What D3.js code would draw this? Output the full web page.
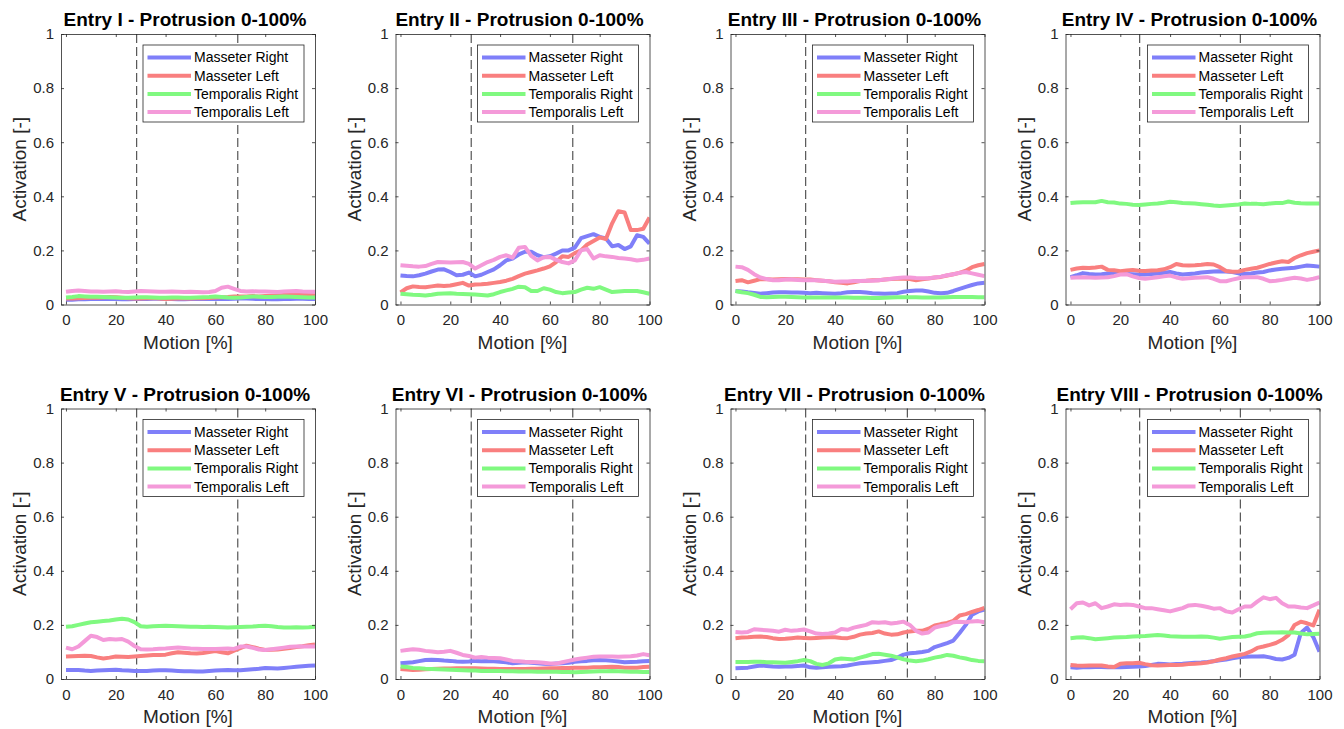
<!DOCTYPE html>
<html>
<head>
<meta charset="utf-8">
<script src="https://cdn.jsdelivr.net/npm/d3@7"></script>
<style>
    body { margin: 0; background: #fff; }
    text { font-family: "Liberation Sans", Arial, Helvetica, sans-serif; fill: #262626; }
</style>
</head>
<body>
<script>
/* Values, one row per entry (I..VIII) */
var entryNames = ["I", "II", "III", "IV", "V", "VI", "VII", "VIII"];
var seriesNames = ["Masseter Right", "Masseter Left", "Temporalis Right", "Temporalis Left"];
var seriesColors = ["#7f7ff9", "#f97f7f", "#80f980", "#f49ad9"];

// Motion [%] sample points shared by every series
var motion = [0, 2.5, 5, 7.5, 10, 12.5, 15, 17.5, 20, 22.5, 25, 27.5, 30, 32.5, 35, 37.5, 40,
    42.5, 45, 47.5, 50, 52.5, 55, 57.5, 60, 62.5, 65, 67.5, 70, 72.5, 75, 77.5, 80, 82.5, 85,
    87.5, 90, 92.5, 95, 97.5, 100];

// dashed phase markers per entry
var phaseStart = [28.4, 28.4, 28.2, 27.8, 28.4, 28.4, 28.2, 27.8];
var phaseEnd = [69, 69.2, 69, 68.2, 69, 69.2, 69, 68.2];

var xTicks = [0, 20, 40, 60, 80, 100];
var yTicks = [0, 0.2, 0.4, 0.6, 0.8, 1];
var yTickLabels = ["0", "0.2", "0.4", "0.6", "0.8", "1"];

var masseterRight = [
    [0.018,0.018,0.019,0.019,0.02,0.02,0.02,0.021,0.02,0.019,0.019,0.02,0.02,0.02,0.021,0.021,0.02,0.02,0.019,0.019,0.02,0.02,0.02,0.021,0.02,0.02,0.02,0.021,0.022,0.022,0.021,0.02,0.02,0.019,0.019,0.02,0.02,0.021,0.021,0.02,0.02],
    [0.107,0.105,0.104,0.108,0.114,0.122,0.129,0.13,0.12,0.108,0.11,0.118,0.104,0.11,0.12,0.13,0.145,0.163,0.17,0.185,0.195,0.195,0.182,0.175,0.178,0.188,0.2,0.2,0.21,0.245,0.253,0.26,0.25,0.244,0.215,0.22,0.205,0.215,0.256,0.25,0.225],
    [0.05,0.048,0.045,0.043,0.04,0.042,0.044,0.045,0.045,0.044,0.044,0.043,0.042,0.043,0.042,0.041,0.04,0.042,0.045,0.046,0.046,0.044,0.042,0.041,0.04,0.041,0.042,0.047,0.05,0.052,0.052,0.048,0.043,0.042,0.043,0.05,0.058,0.065,0.072,0.078,0.08],
    [0.101,0.108,0.116,0.113,0.111,0.112,0.115,0.114,0.113,0.113,0.112,0.111,0.111,0.113,0.115,0.117,0.12,0.115,0.111,0.113,0.115,0.118,0.12,0.122,0.123,0.122,0.12,0.115,0.113,0.115,0.118,0.12,0.126,0.129,0.132,0.134,0.136,0.14,0.144,0.142,0.14],
    [0.033,0.033,0.033,0.031,0.03,0.031,0.032,0.033,0.034,0.032,0.031,0.03,0.03,0.03,0.031,0.032,0.032,0.031,0.03,0.029,0.029,0.028,0.028,0.03,0.031,0.032,0.033,0.032,0.032,0.034,0.036,0.038,0.041,0.04,0.039,0.041,0.043,0.045,0.047,0.049,0.05],
    [0.058,0.06,0.062,0.066,0.07,0.071,0.07,0.068,0.067,0.065,0.064,0.065,0.067,0.066,0.067,0.066,0.064,0.062,0.058,0.06,0.062,0.06,0.058,0.056,0.055,0.057,0.058,0.06,0.064,0.066,0.067,0.069,0.07,0.069,0.067,0.065,0.062,0.063,0.064,0.066,0.067],
    [0.04,0.041,0.042,0.046,0.05,0.048,0.046,0.045,0.046,0.046,0.048,0.05,0.043,0.042,0.043,0.045,0.046,0.047,0.05,0.054,0.058,0.06,0.062,0.064,0.067,0.07,0.079,0.09,0.095,0.097,0.1,0.104,0.118,0.125,0.133,0.142,0.17,0.2,0.238,0.25,0.257],
    [0.043,0.042,0.043,0.043,0.044,0.044,0.043,0.044,0.043,0.044,0.045,0.046,0.048,0.052,0.056,0.055,0.054,0.055,0.056,0.058,0.06,0.061,0.063,0.066,0.069,0.072,0.077,0.08,0.082,0.083,0.083,0.084,0.08,0.074,0.072,0.078,0.09,0.17,0.19,0.155,0.101]
];

var masseterLeft = [
    [0.022,0.022,0.023,0.024,0.025,0.025,0.026,0.028,0.027,0.025,0.023,0.022,0.022,0.023,0.024,0.022,0.02,0.021,0.022,0.022,0.022,0.023,0.023,0.024,0.026,0.027,0.028,0.03,0.03,0.03,0.031,0.03,0.031,0.032,0.033,0.035,0.036,0.037,0.036,0.035,0.034],
    [0.045,0.06,0.067,0.065,0.064,0.067,0.07,0.068,0.07,0.075,0.08,0.07,0.074,0.075,0.077,0.08,0.083,0.088,0.095,0.105,0.114,0.12,0.126,0.133,0.141,0.157,0.178,0.176,0.19,0.2,0.222,0.235,0.248,0.242,0.3,0.345,0.34,0.275,0.275,0.28,0.322],
    [0.087,0.09,0.082,0.088,0.094,0.093,0.092,0.093,0.094,0.093,0.093,0.092,0.092,0.09,0.088,0.086,0.082,0.08,0.078,0.082,0.087,0.088,0.09,0.09,0.092,0.094,0.095,0.095,0.094,0.09,0.093,0.096,0.1,0.102,0.107,0.112,0.117,0.125,0.138,0.145,0.15],
    [0.128,0.133,0.136,0.135,0.137,0.14,0.128,0.127,0.123,0.126,0.128,0.125,0.124,0.126,0.127,0.13,0.138,0.15,0.145,0.144,0.145,0.147,0.15,0.148,0.138,0.124,0.121,0.122,0.128,0.132,0.136,0.143,0.15,0.155,0.16,0.157,0.172,0.182,0.19,0.195,0.2],
    [0.083,0.084,0.085,0.086,0.085,0.08,0.076,0.079,0.083,0.082,0.081,0.083,0.085,0.087,0.089,0.089,0.09,0.095,0.099,0.097,0.095,0.094,0.096,0.1,0.103,0.099,0.095,0.105,0.114,0.123,0.118,0.112,0.107,0.108,0.109,0.112,0.115,0.118,0.121,0.125,0.128],
    [0.037,0.035,0.033,0.034,0.036,0.037,0.038,0.039,0.039,0.04,0.04,0.04,0.04,0.039,0.038,0.038,0.037,0.037,0.037,0.037,0.037,0.038,0.038,0.039,0.04,0.04,0.041,0.041,0.042,0.042,0.042,0.043,0.043,0.044,0.045,0.044,0.042,0.042,0.042,0.044,0.045],
    [0.151,0.153,0.154,0.156,0.157,0.155,0.151,0.148,0.149,0.151,0.153,0.152,0.151,0.152,0.153,0.154,0.154,0.152,0.151,0.156,0.164,0.168,0.17,0.176,0.168,0.164,0.165,0.172,0.176,0.178,0.178,0.186,0.198,0.203,0.207,0.215,0.235,0.24,0.248,0.255,0.263],
    [0.052,0.05,0.049,0.05,0.05,0.05,0.046,0.044,0.056,0.058,0.058,0.06,0.055,0.051,0.05,0.051,0.052,0.052,0.053,0.055,0.056,0.058,0.061,0.066,0.072,0.077,0.083,0.088,0.093,0.102,0.115,0.12,0.126,0.133,0.145,0.162,0.2,0.212,0.206,0.198,0.256]
];

var temporalisRight = [
    [0.026,0.028,0.031,0.03,0.029,0.029,0.028,0.027,0.026,0.025,0.025,0.026,0.027,0.027,0.026,0.025,0.025,0.026,0.026,0.025,0.025,0.026,0.027,0.028,0.03,0.028,0.026,0.025,0.026,0.028,0.03,0.029,0.028,0.028,0.029,0.03,0.029,0.028,0.027,0.026,0.026],
    [0.04,0.038,0.036,0.035,0.033,0.036,0.04,0.041,0.042,0.04,0.039,0.038,0.037,0.035,0.033,0.038,0.046,0.052,0.058,0.066,0.064,0.05,0.05,0.06,0.055,0.046,0.042,0.044,0.046,0.055,0.062,0.058,0.064,0.055,0.046,0.048,0.05,0.05,0.05,0.045,0.04],
    [0.05,0.045,0.042,0.036,0.028,0.027,0.028,0.029,0.029,0.028,0.027,0.026,0.026,0.026,0.026,0.026,0.026,0.026,0.026,0.025,0.025,0.025,0.024,0.024,0.025,0.026,0.027,0.027,0.027,0.027,0.026,0.026,0.026,0.026,0.027,0.028,0.028,0.028,0.028,0.027,0.027],
    [0.375,0.377,0.378,0.378,0.378,0.383,0.378,0.377,0.373,0.372,0.369,0.368,0.37,0.372,0.373,0.376,0.38,0.378,0.375,0.374,0.373,0.371,0.369,0.366,0.364,0.366,0.368,0.37,0.373,0.372,0.372,0.371,0.373,0.375,0.375,0.381,0.376,0.374,0.373,0.373,0.373],
    [0.193,0.195,0.2,0.205,0.21,0.212,0.214,0.216,0.22,0.223,0.22,0.21,0.195,0.193,0.195,0.196,0.197,0.196,0.195,0.194,0.193,0.193,0.192,0.193,0.192,0.191,0.19,0.191,0.192,0.193,0.194,0.196,0.197,0.195,0.192,0.19,0.19,0.191,0.19,0.191,0.193],
    [0.046,0.044,0.041,0.04,0.038,0.037,0.036,0.035,0.034,0.033,0.032,0.031,0.031,0.03,0.03,0.03,0.03,0.029,0.029,0.028,0.028,0.028,0.027,0.027,0.027,0.027,0.026,0.026,0.025,0.026,0.027,0.028,0.029,0.029,0.03,0.029,0.028,0.027,0.027,0.026,0.026],
    [0.063,0.063,0.063,0.064,0.064,0.062,0.062,0.061,0.06,0.063,0.066,0.07,0.066,0.056,0.052,0.058,0.072,0.076,0.074,0.072,0.079,0.085,0.092,0.093,0.09,0.086,0.08,0.073,0.068,0.066,0.068,0.073,0.079,0.083,0.089,0.086,0.08,0.076,0.07,0.067,0.066],
    [0.151,0.153,0.154,0.151,0.147,0.149,0.151,0.153,0.154,0.155,0.157,0.158,0.159,0.161,0.163,0.161,0.158,0.157,0.156,0.156,0.156,0.157,0.156,0.153,0.149,0.152,0.155,0.156,0.157,0.162,0.169,0.171,0.172,0.172,0.173,0.172,0.172,0.168,0.165,0.166,0.167]
];

var temporalisLeft = [
    [0.047,0.05,0.052,0.05,0.048,0.048,0.047,0.048,0.049,0.047,0.046,0.048,0.05,0.049,0.048,0.047,0.047,0.048,0.047,0.046,0.047,0.046,0.045,0.046,0.05,0.062,0.066,0.058,0.05,0.048,0.049,0.048,0.048,0.047,0.046,0.048,0.049,0.05,0.048,0.047,0.047],
    [0.145,0.143,0.141,0.14,0.142,0.15,0.157,0.156,0.155,0.156,0.157,0.15,0.133,0.145,0.157,0.165,0.176,0.182,0.173,0.21,0.213,0.18,0.163,0.175,0.176,0.165,0.157,0.152,0.163,0.2,0.205,0.17,0.182,0.178,0.176,0.172,0.17,0.167,0.163,0.165,0.17],
    [0.14,0.138,0.128,0.112,0.1,0.094,0.09,0.09,0.092,0.092,0.091,0.09,0.09,0.09,0.088,0.086,0.084,0.085,0.085,0.087,0.087,0.088,0.088,0.09,0.092,0.095,0.098,0.1,0.1,0.098,0.097,0.097,0.1,0.103,0.108,0.112,0.117,0.12,0.115,0.11,0.105],
    [0.099,0.1,0.101,0.1,0.099,0.1,0.101,0.105,0.111,0.112,0.104,0.098,0.095,0.098,0.101,0.104,0.107,0.1,0.095,0.097,0.099,0.1,0.101,0.095,0.086,0.086,0.092,0.097,0.101,0.101,0.101,0.095,0.086,0.088,0.091,0.095,0.099,0.096,0.091,0.095,0.101],
    [0.116,0.11,0.12,0.14,0.16,0.155,0.144,0.148,0.146,0.148,0.138,0.122,0.11,0.109,0.11,0.112,0.113,0.115,0.116,0.115,0.113,0.112,0.111,0.111,0.111,0.112,0.113,0.111,0.12,0.12,0.115,0.109,0.107,0.11,0.113,0.116,0.119,0.12,0.12,0.12,0.12],
    [0.104,0.107,0.11,0.108,0.104,0.102,0.099,0.101,0.104,0.097,0.089,0.085,0.079,0.081,0.079,0.078,0.077,0.072,0.067,0.066,0.064,0.063,0.062,0.06,0.057,0.057,0.062,0.067,0.072,0.076,0.079,0.082,0.083,0.083,0.083,0.082,0.083,0.084,0.087,0.092,0.088],
    [0.174,0.172,0.174,0.184,0.182,0.18,0.178,0.175,0.182,0.178,0.18,0.183,0.176,0.168,0.166,0.168,0.172,0.185,0.182,0.19,0.195,0.2,0.21,0.208,0.21,0.205,0.208,0.212,0.2,0.178,0.168,0.172,0.19,0.196,0.2,0.21,0.212,0.21,0.213,0.214,0.21],
    [0.258,0.28,0.283,0.272,0.28,0.262,0.268,0.276,0.274,0.275,0.274,0.268,0.262,0.262,0.258,0.254,0.25,0.256,0.262,0.272,0.274,0.271,0.266,0.26,0.262,0.25,0.246,0.258,0.268,0.268,0.286,0.302,0.295,0.3,0.28,0.268,0.268,0.264,0.262,0.272,0.283]
];

var allSeries = [masseterRight, masseterLeft, temporalisRight, temporalisLeft];

/* Layout of the 2x4 grid of axes */
var colLeft = [61, 395.5, 730.5, 1065.5];
var rowTop = [34, 408.5];
var plotW = 254, plotH = 270.5;

var svg = d3.select('body').append('svg')
    .attr('width', 1344)
    .attr('height', 729);

entryNames.forEach(function(name, k){
    var g = svg.append('g')
        .attr('transform', 'translate(' + colLeft[k % 4] + ',' + rowTop[Math.floor(k / 4)] + ')');
    drawPanel(g, k, name);
});

/* Draws one axes: lines, phase markers, box, ticks, labels and legend */
function drawPanel(g, k, name){
    var x = d3.scaleLinear().domain([-2, 100]).range([0, plotW]);
    var y = d3.scaleLinear().domain([0, 1]).range([plotH, 0]);

    // clip so lines stay inside the box
    g.append('clipPath').attr('id', 'clip' + k)
        .append('rect').attr('width', plotW).attr('height', plotH);

    // dashed phase lines
    [phaseStart[k], phaseEnd[k]].forEach(function(p){
        g.append('line')
            .attr('x1', x(p)).attr('x2', x(p))
            .attr('y1', 0).attr('y2', plotH)
            .style('stroke', '#333')
            .style('stroke-width', 1)
            .style('stroke-dasharray', '9,4');
    });

    var line = d3.line()
        .x(function(d, i){ return x(motion[i]); })
        .y(function(d){ return y(d); });

    var lines = g.append('g').attr('clip-path', 'url(#clip' + k + ')');
    allSeries.forEach(function(series, s){
        lines.append('path')
            .attr('d', line(series[k]))
            .style('fill', 'none')
            .style('stroke', seriesColors[s])
            .style('stroke-width', 4)
            .style('stroke-linejoin', 'round');
    });

    // axes with inward ticks on all four sides
    var ax = g.append('g').attr('class', 'axes');
    ax.append('g').attr('transform', 'translate(0,' + plotH + ')')
        .call(d3.axisBottom(x).tickValues(xTicks).tickSize(-3).tickSizeOuter(0).tickPadding(10));
    ax.append('g')
        .call(d3.axisLeft(y).tickValues(yTicks).tickSize(-3).tickSizeOuter(0).tickPadding(7)
            .tickFormat(function(d, i){ return yTickLabels[i]; }));
    ax.append('g')
        .call(d3.axisTop(x).tickValues(xTicks).tickSize(-3).tickSizeOuter(0).tickFormat(''));
    ax.append('g').attr('transform', 'translate(' + plotW + ',0)')
        .call(d3.axisRight(y).tickValues(yTicks).tickSize(-3).tickSizeOuter(0).tickFormat(''));
    ax.selectAll('.domain, .tick line').style('stroke', '#262626').style('stroke-width', 0.8);
    ax.selectAll('.tick text')
        .style('font-family', '"Liberation Sans", Arial, sans-serif')
        .style('font-size', '15px')
        .style('fill', '#262626');

    // title and axis labels
    g.append('text')
        .attr('x', plotW / 2 - 3).attr('y', -8)
        .attr('text-anchor', 'middle')
        .style('font-size', '19px').style('font-weight', 'bold').style('fill', '#000')
        .text('Entry ' + name + ' - Protrusion 0-100%');
    g.append('text')
        .attr('x', plotW / 2).attr('y', plotH + 44)
        .attr('text-anchor', 'middle')
        .style('font-size', '19px')
        .text('Motion [%]');
    g.append('text')
        .attr('transform', 'translate(-35,' + (plotH / 2) + ') rotate(-90)')
        .attr('text-anchor', 'middle')
        .style('font-size', '19px')
        .text('Activation [-]');

    // legend box
    var lg = g.append('g').attr('transform', 'translate(82,11)');
    lg.append('rect')
        .attr('width', 161).attr('height', 77)
        .style('fill', '#fff')
        .style('stroke', '#262626')
        .style('stroke-width', 0.8);
    seriesNames.forEach(function(label, s){
        var ly = 12.5 + s * 18.2;
        lg.append('line')
            .attr('x1', 4.5).attr('x2', 48)
            .attr('y1', ly).attr('y2', ly)
            .style('stroke', seriesColors[s])
            .style('stroke-width', 4);
        lg.append('text')
            .attr('x', 51).attr('y', ly).attr('dy', '0.35em')
            .style('font-size', '14px')
            .style('fill', '#000')
            .text(label);
    });
}
</script>
</body>
</html>
